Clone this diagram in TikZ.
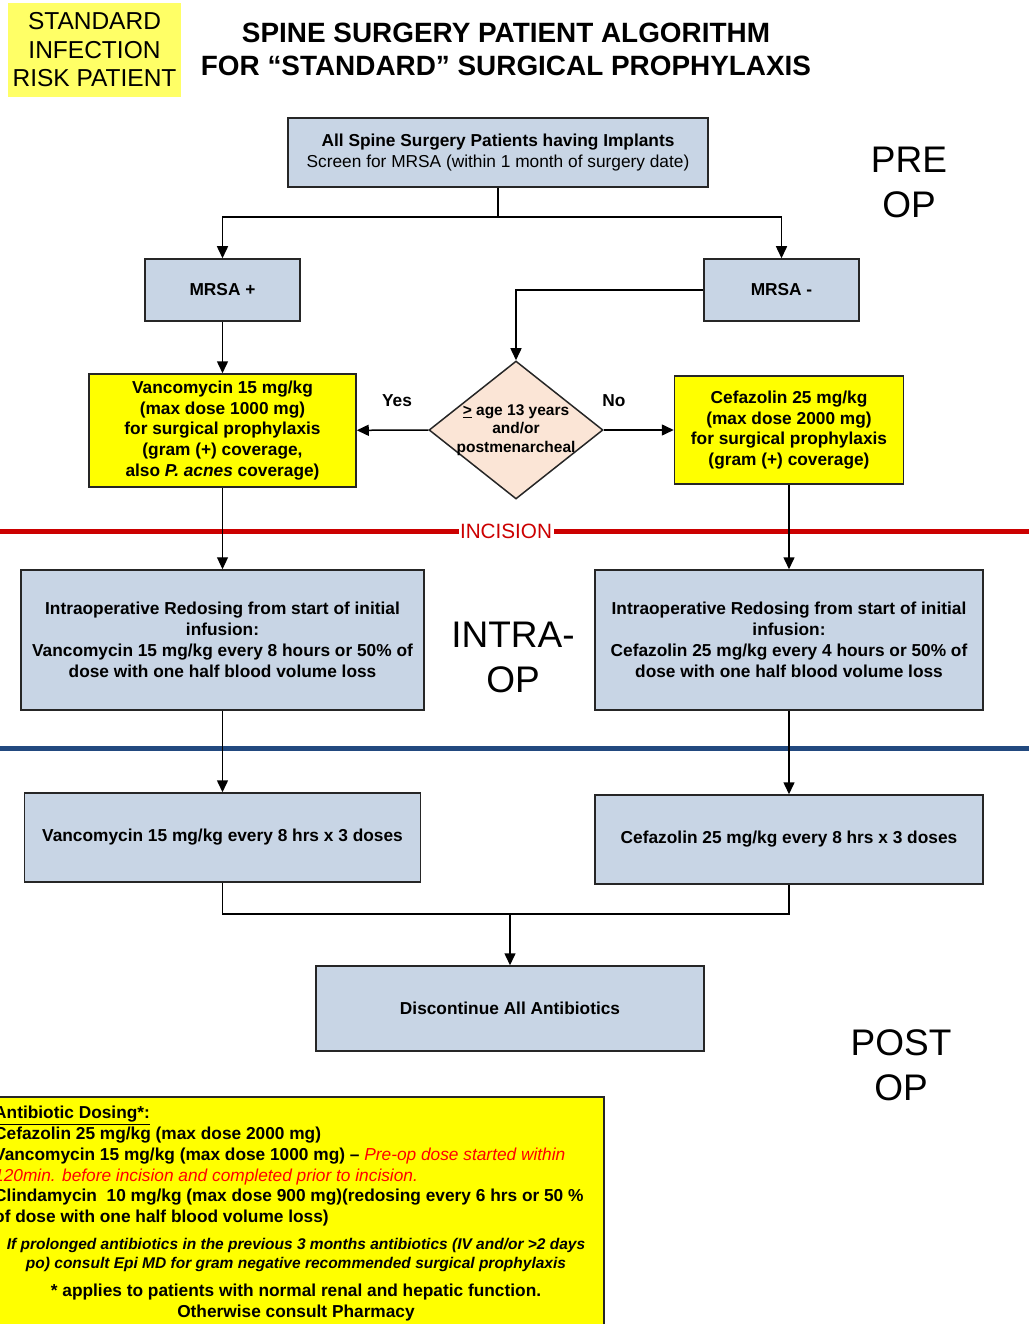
\documentclass[tikz,border=0pt]{standalone}
\usepackage{fontspec}
\setmainfont{Liberation Sans}
\usetikzlibrary{shapes.geometric,arrows.meta}
\definecolor{boxblue}{HTML}{C8D5E5}
\definecolor{drugyellow}{HTML}{FFFF00}
\definecolor{tagyellow}{HTML}{FFFF66}
\definecolor{diafill}{HTML}{FBE5D6}
\definecolor{incred}{HTML}{CC0000}
\definecolor{postblue}{HTML}{22497F}

\begin{document}
\begin{tikzpicture}[x=1pt,y=-1pt,
        box/.style={draw=black!85,line width=1.5pt,fill=boxblue,align=center,inner sep=0pt,font=\fontsize{17.3}{20.8}\selectfont\bfseries},
        drug/.style={box,fill=drugyellow},
        decision/.style={diamond,draw=black!85,line width=1.5pt,fill=diafill,inner sep=0pt,minimum width=174pt,minimum height=138pt},
        arr/.style={line width=1.5pt,-{Triangle[length=12pt,width=11pt]}},
        link/.style={line width=1.5pt},
        answer/.style={font=\fontsize{17.3}{20.8}\selectfont\bfseries},
        phase/.style={align=center,font=\fontsize{37}{45}\selectfont}]
        \useasboundingbox (0,0) rectangle (1029,1324);
        \clip (0,0) rectangle (1029,1324);

        \node[fill=tagyellow,minimum width=173pt,minimum height=94pt,align=center,font=\fontsize{24.5}{28.5}\selectfont](risk) at (94.5,50){STANDARD\\INFECTION\\RISK PATIENT};
        \node[align=center,font=\fontsize{27.9}{33}\selectfont\bfseries](title) at (506,49){SPINE SURGERY PATIENT ALGORITHM\\FOR “STANDARD” SURGICAL PROPHYLAXIS};

        \draw[incred,line width=5pt](0,531)--(1029,531);
        \node[fill=white,text=incred,inner sep=1.5pt,font=\fontsize{20.7}{24}\selectfont](incision) at (506,531){INCISION};
        \draw[postblue,line width=5pt](0,748)--(1029,748);

        \node[box,minimum width=420pt,minimum height=69pt](screen) at (498,152.5){All Spine Surgery Patients having Implants\\{\mdseries Screen for MRSA (within 1 month of surgery date)}};
        \node[box,minimum width=155pt,minimum height=62pt](mrsapos) at (222.5,290){MRSA +};
        \node[box,minimum width=155pt,minimum height=62pt](mrsaneg) at (781.5,290){MRSA -};
        \node[drug,minimum width=267pt,minimum height=113pt](vanco) at (222.5,430.5){Vancomycin 15 mg/kg\\(max dose 1000 mg)\\for surgical prophylaxis\\(gram (+) coverage,\\also \textit{P. acnes} coverage)};
        \node[drug,minimum width=229pt,minimum height=108pt](cefaz) at (789,430){Cefazolin 25 mg/kg\\(max dose 2000 mg)\\for surgical prophylaxis\\(gram (+) coverage)};
        \node[decision](agecheck) at (516,430){};
        \node[align=center,font=\fontsize{15.5}{18.5}\selectfont\bfseries](agetext) at (agecheck){\underline{>} age 13 years\\and/or\\postmenarcheal};
        \node[answer](yes) at (397,401){Yes};
        \node[answer](no) at (614,401){No};

        \node[box,minimum width=403pt,minimum height=140pt](intravanco) at (222.5,640){Intraoperative Redosing from start of initial\\infusion:\\Vancomycin 15 mg/kg every 8 hours or 50\% of\\dose with one half blood volume loss};
        \node[box,minimum width=388pt,minimum height=140pt](intracefaz) at (789,640){Intraoperative Redosing from start of initial\\infusion:\\Cefazolin 25 mg/kg every 4 hours or 50\% of\\dose with one half blood volume loss};
        \node[box,minimum width=396pt,minimum height=89pt](postvanco) at (222.5,837.5){Vancomycin 15 mg/kg every 8 hrs x 3 doses};
        \node[box,minimum width=388pt,minimum height=89pt](postcefaz) at (789,839.5){Cefazolin 25 mg/kg every 8 hrs x 3 doses};
        \node[box,minimum width=388pt,minimum height=85pt](stopall) at (510,1008.5){Discontinue All Antibiotics};

        \node[phase](preop) at (909,182.5){PRE\\OP};
        \node[phase](intraop) at (513,657.5){INTRA-\\OP};
        \node[phase](postop) at (901,1065){POST\\OP};

        \coordinate(split) at (498,217);
        \coordinate(join) at (510,914);
        \draw[link](screen)--(split);
        \draw[arr](split)-|(mrsapos);
        \draw[arr](split)-|(mrsaneg);
        \draw[arr](mrsaneg)-|(agecheck);
        \draw[arr](mrsapos)--(vanco);
        \draw[arr](agecheck)--(vanco);
        \draw[arr](agecheck)--(cefaz);
        \draw[arr,line width=1pt](vanco)--(intravanco);
        \draw[arr](cefaz)--(intracefaz);
        \draw[arr](intravanco)--(postvanco);
        \draw[arr](intracefaz)--(postcefaz);
        \draw[link](postvanco)|-(join)-|(postcefaz);
        \draw[arr](join)--(stopall);

        \node[draw=black!85,line width=1.5pt,fill=drugyellow,minimum width=620pt,minimum height=250pt](dosing) at (294,1222){};
        \node[anchor=north west,align=left,inner sep=0pt,font=\fontsize{17.3}{20.8}\selectfont\bfseries](dosetext) at (-6,1106){\underline{Antibiotic Dosing*:}\\Cefazolin 25 mg/kg (max dose 2000 mg)\\Vancomycin 15 mg/kg (max dose 1000 mg) – {\mdseries\itshape\color{red}Pre-op dose started within}\\{\mdseries\itshape\color{red}120min. before incision and completed prior to incision.}\\Clindamycin\ \ 10 mg/kg (max dose 900 mg)(redosing every 6 hrs or 50 \%\\of dose with one half blood volume loss)};
        \node[anchor=north,align=center,inner sep=0pt,font=\fontsize{15.5}{19.5}\selectfont\bfseries\itshape](gramneg) at (296,1238){If prolonged antibiotics in the previous 3 months antibiotics (IV and/or >2 days\\po) consult Epi MD for gram negative recommended surgical prophylaxis};
        \node[anchor=north,align=center,inner sep=0pt,font=\fontsize{17.3}{21}\selectfont\bfseries](renal) at (296,1284){* applies to patients with normal renal and hepatic function.\\Otherwise consult Pharmacy};
    \end{tikzpicture}
\end{document}
